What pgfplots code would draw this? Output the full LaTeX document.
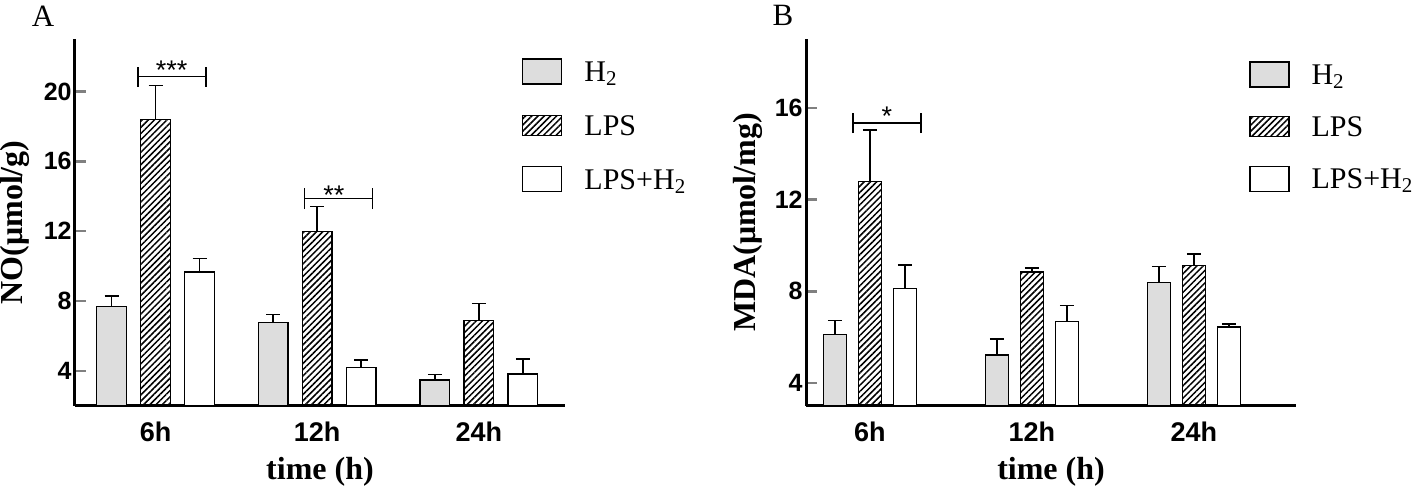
\documentclass[border=0pt]{standalone}
\usepackage{fontspec}
\setmainfont{Liberation Serif}
\setsansfont{Liberation Sans}
\usepackage{pgfplots}
\pgfplotsset{compat=1.18}
\usetikzlibrary{patterns.meta}
\definecolor{hgray}{RGB}{221,221,221}

\pgfplotsset{
  barpanel/.style={
    scale only axis, width=245pt, height=183.5pt,
    axis x line*=bottom, axis y line*=left,
    axis line style={line width=1.5pt},
    xtick={0,1,2}, xticklabels={6h,12h,24h},
    xtick style={draw=none},
    ytick style={line width=1.2pt},
    tick align=inside, major tick length=5.5pt,
    xticklabel style={font=\fontsize{13.5}{15}\selectfont\sffamily\bfseries,
                      yshift=1pt},
    yticklabel style={font=\fontsize{12.5}{14}\selectfont\sffamily\bfseries,
                      inner xsep=1.5pt},
    /pgf/number format/assume math mode=true,
    every axis plot/.append style={line width=0.6pt,
      error bars/y dir=plus, error bars/y explicit,
      error bars/error bar style={line width=0.7pt, black},
      error bars/error mark options={rotate=90, mark size=3.5pt, line width=0.7pt, black}},
    xlabel={time (h)},
    xlabel style={font=\fontsize{16}{18}\selectfont\bfseries,
                  at={(axis description cs:0.5,-0.18)}, anchor=center},
    ylabel style={font=\fontsize{16}{18}\selectfont\bfseries, anchor=center},
    legend cell align=left,
    legend style={draw=none, fill=none, inner sep=0pt, anchor=north west,
      nodes={inner sep=0pt, text depth=0pt},
      font=\fontsize{15}{17}\selectfont,
      /tikz/every odd column/.style={column sep=11pt}},
    clip=false,
  },
  boxlegend/.style={legend image code/.code={\draw[##1] (0pt,-6.25pt) rectangle (19.5pt,6.25pt);}},
  h2bar/.style={fill=hgray, draw=black, boxlegend},
  lpsbar/.style={draw=black, pattern={Lines[angle=45,distance=2.2pt,line width=0.75pt]},
    legend image code/.code={\draw[##1] (0pt,-5pt) rectangle (19.5pt,5pt);}},
  mixbar/.style={fill=white, draw=black, boxlegend},
}

\begin{document}
\begin{tikzpicture}
\useasboundingbox (-37.5pt,-40pt) rectangle (670pt,203pt);

% panel A: NO
\begin{axis}[barpanel,
  ybar=7.25pt, bar width=14.75pt,
  xmin=-0.498, xmax=2.533, ymin=2, ymax=23,
  ytick={4,8,12,16,20},
  ylabel={NO(μmol/g)},
  ylabel style={at={(axis description cs:-0.1224,0.5)}},
  legend style={at={(axis description cs:0.912,0.948)}, row sep=15.1pt},
]
\addplot[h2bar] coordinates {(0,7.68) +- (0,0.62) (1,6.78) +- (0,0.46) (2,3.49) +- (0,0.31)};
\addplot[lpsbar] coordinates {(0,18.38) +- (0,1.96) (1,11.98) +- (0,1.42) (2,6.91) +- (0,0.96)};
\addplot[mixbar] coordinates {(0,9.67) +- (0,0.77) (1,4.19) +- (0,0.44) (2,3.83) +- (0,0.86)};
\legend{H\textsubscript{2},LPS,LPS+H\textsubscript{2}}
\draw[line width=0.6pt] (axis cs:-0.108,20.27) -- (axis cs:-0.108,21.4)
  (axis cs:0.312,20.27) -- (axis cs:0.312,21.4)
  (axis cs:-0.108,20.86) -- (axis cs:0.312,20.86);
\node[anchor=north, inner sep=0pt, font=\fontsize{13.5}{15}\selectfont\sffamily]
  at (axis cs:0.10,21.76) {***};
\draw[line width=0.6pt] (axis cs:0.921,13.26) -- (axis cs:0.921,14.47)
  (axis cs:1.344,13.26) -- (axis cs:1.344,14.47)
  (axis cs:0.921,13.88) -- (axis cs:1.344,13.88);
\node[anchor=north, inner sep=0pt, font=\fontsize{13.5}{15}\selectfont\sffamily]
  at (axis cs:1.103,14.63) {**};
\end{axis}

% panel B: MDA
\begin{axis}[barpanel, at={(365.5pt,0pt)},
  ybar=6pt, bar width=11.5pt,
  xmin=-0.395, xmax=2.63, ymin=3, ymax=19,
  ytick={4,8,12,16},
  ylabel={MDA(μmol/mg)},
  ylabel style={at={(axis description cs:-0.118,0.5)}},
  legend style={at={(axis description cs:0.904,0.94)}, row sep=14.2pt},
]
\addplot[h2bar] coordinates {(0,6.10) +- (0,0.63) (1,5.22) +- (0,0.70) (2,8.40) +- (0,0.68)};
\addplot[lpsbar] coordinates {(0,12.80) +- (0,2.24) (1,8.84) +- (0,0.17) (2,9.13) +- (0,0.49)};
\addplot[mixbar] coordinates {(0,8.11) +- (0,1.04) (1,6.68) +- (0,0.69) (2,6.44) +- (0,0.14)};
\legend{H\textsubscript{2},LPS,LPS+H\textsubscript{2}}
\draw[line width=0.6pt] (axis cs:-0.105,14.9) -- (axis cs:-0.105,15.78)
  (axis cs:0.315,14.9) -- (axis cs:0.315,15.78)
  (axis cs:-0.105,15.34) -- (axis cs:0.315,15.34);
\node[anchor=north, inner sep=0pt, font=\fontsize{13.5}{15}\selectfont\sffamily]
  at (axis cs:0.105,16.07) {*};
\end{axis}

\node[font=\fontsize{15.5}{17}\selectfont] at (-16pt,195pt) {A};
\node[font=\fontsize{15.5}{17}\selectfont] at (354pt,195.5pt) {B};
\end{tikzpicture}
\end{document}
